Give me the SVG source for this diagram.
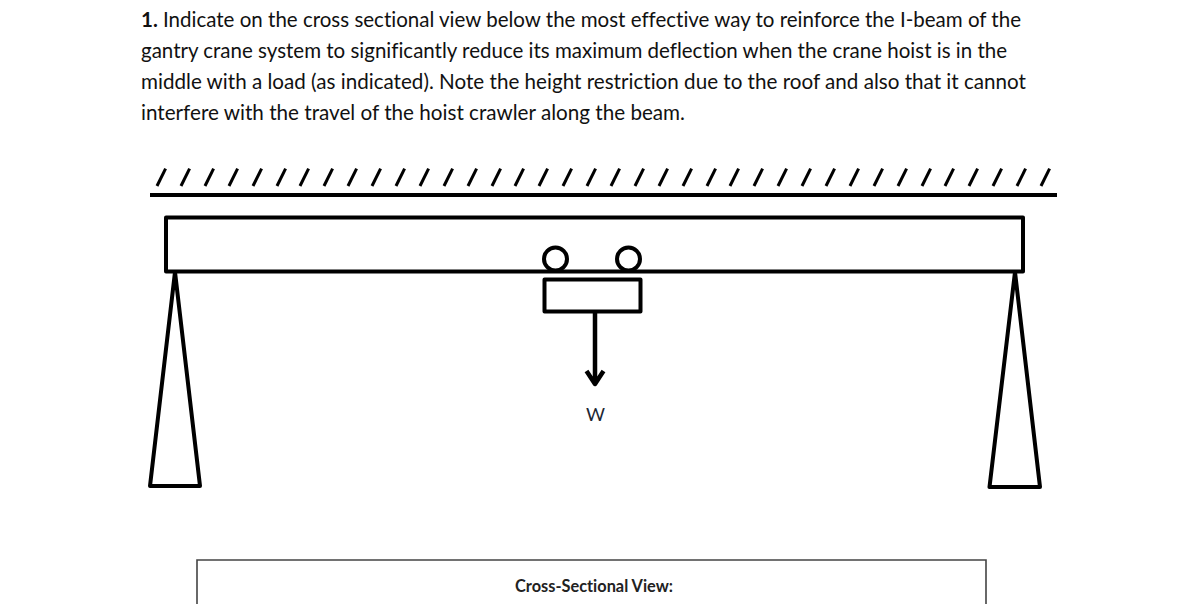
<svg xmlns="http://www.w3.org/2000/svg" width="1180" height="604" viewBox="0 0 1180 604">
<style>
text{font-variant-ligatures:none}
.q{font-family:Lato,"Open Sans","Liberation Sans",sans-serif;font-size:20.500px;fill:#111}
.b{font-weight:700}
.s{fill:none;stroke:#000;stroke-width:4;stroke-linejoin:round}
.h{stroke:#000;stroke-width:3}
</style>
<rect width="1180" height="604" fill="#fff"/>
<g id="question">
<text class="q" x="141" y="27" textLength="880" lengthAdjust="spacingAndGlyphs"><tspan class="b">1.</tspan> Indicate on the cross sectional view below the most effective way to reinforce the I-beam of the</text>
<text class="q" x="141" y="58" textLength="866" lengthAdjust="spacingAndGlyphs">gantry crane system to significantly reduce its maximum deflection when the crane hoist is in the</text>
<text class="q" x="141" y="89" textLength="885" lengthAdjust="spacingAndGlyphs">middle with a load (as indicated). Note the height restriction due to the roof and also that it cannot</text>
<text class="q" x="141" y="120" textLength="544" lengthAdjust="spacingAndGlyphs">interfere with the travel of the hoist crawler along the beam.</text>
</g>
<g id="roof">
<defs><path id="t" class="h" d="M0 186L8.600 168.700"/></defs>
<path d="M150 195H1057" class="s"/>
<use href="#t" x="157"/><use href="#t" x="181"/><use href="#t" x="205"/><use href="#t" x="229"/><use href="#t" x="253"/><use href="#t" x="277"/><use href="#t" x="300"/><use href="#t" x="324"/><use href="#t" x="348"/><use href="#t" x="372"/><use href="#t" x="396"/><use href="#t" x="420"/><use href="#t" x="444"/><use href="#t" x="468"/><use href="#t" x="492"/><use href="#t" x="515"/><use href="#t" x="539"/><use href="#t" x="563"/><use href="#t" x="587"/><use href="#t" x="611"/><use href="#t" x="635"/><use href="#t" x="659"/><use href="#t" x="683"/><use href="#t" x="707"/><use href="#t" x="730"/><use href="#t" x="754"/><use href="#t" x="778"/><use href="#t" x="802"/><use href="#t" x="826"/><use href="#t" x="850"/><use href="#t" x="874"/><use href="#t" x="898"/><use href="#t" x="922"/><use href="#t" x="945"/><use href="#t" x="969"/><use href="#t" x="993"/><use href="#t" x="1017"/><use href="#t" x="1041"/>
</g>
<g id="beam"><rect class="s" x="166" y="217.500" width="857" height="54"/></g>
<g id="left-support"><path class="s" d="M175 272L150 486H200Z"/></g>
<g id="right-support"><path class="s" d="M1015 272L989.500 487H1040Z"/></g>
<g id="hoist">
<circle class="s" cx="555.500" cy="259" r="11.500"/>
<circle class="s" cx="628.500" cy="259" r="11.500"/>
<rect class="s" x="544.500" y="279.500" width="96" height="32"/>
</g>
<g id="connectors">
<path class="s" stroke-width="4.500" style="stroke-width:4.500" d="M595 311V384M586.500 371L595 384L603.500 371"/>
</g>
<g id="load"><text x="586" y="421" textLength="19" lengthAdjust="spacingAndGlyphs" font-family="Lato,sans-serif" font-size="18" fill="#1c2733">W</text></g>
<g id="cross-section">
<path d="M197 604V560H986V604" fill="none" stroke="#444" stroke-width="1.600"/>
<text x="515" y="592" textLength="158" lengthAdjust="spacingAndGlyphs" font-family="Lato,sans-serif" font-weight="700" font-size="16.500" fill="#222">Cross-Sectional View:</text>
</g>
</svg>
